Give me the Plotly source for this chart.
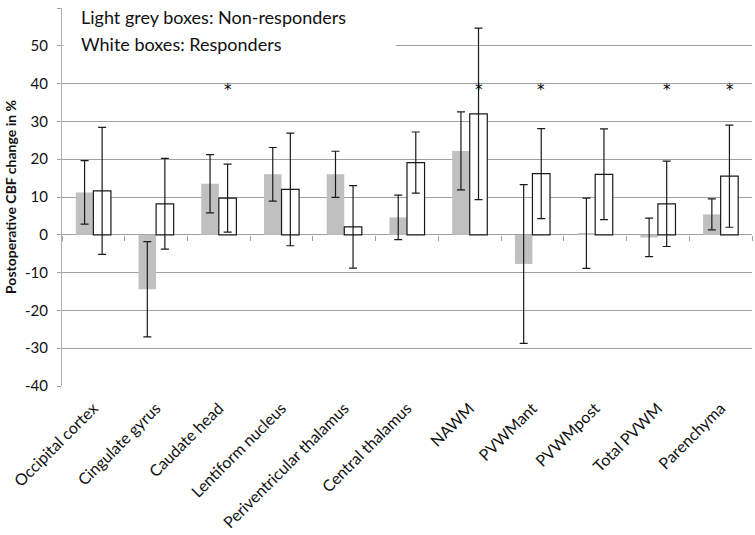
import plotly.graph_objects as go

categories = ["Occipital cortex", "Cingulate gyrus", "Caudate head", "Lentiform nucleus",
              "Periventricular thalamus", "Central thalamus", "NAWM", "PVWMant",
              "PVWMpost", "Total PVWM", "Parenchyma"]
non_responders = [11.2, -14.4, 13.5, 16.0, 16.0, 4.6, 22.2, -7.7, 0.4, -0.7, 5.4]
non_responders_err = [8.4, 12.6, 7.7, 7.1, 6.1, 5.9, 10.3, 21.0, 9.3, 5.1, 4.1]
responders = [11.6, 8.2, 9.7, 12.0, 2.1, 19.1, 32.0, 16.2, 16.0, 8.2, 15.5]
responders_err = [16.8, 12.0, 9.0, 14.9, 10.9, 8.1, 22.7, 11.9, 12.0, 11.3, 13.5]
significant = ["Caudate head", "NAWM", "PVWMant", "Total PVWM", "Parenchyma"]
star_level = 38.3
y_ticks = list(range(-40, 61, 10))
y_tick_labels = [str(v) for v in y_ticks]

FONT = "Lato"
GRID = "#a0a0a0"

fig = go.Figure()
fig.add_trace(go.Bar(
    x=categories, y=non_responders, name="Non-responders",
    marker=dict(color="#c0c0c0", line=dict(width=0)),
    error_y=dict(type="data", array=non_responders_err, color="#1a1a1a", thickness=1.2, width=4),
))
fig.add_trace(go.Bar(
    x=categories, y=responders, name="Responders",
    marker=dict(color="white", line=dict(color="#1a1a1a", width=1.2)),
    error_y=dict(type="data", array=responders_err, color="#1a1a1a", thickness=1.2, width=4),
))
# dummy trace for the zero-line tick axis
fig.add_trace(go.Scatter(x=categories, y=[None] * len(categories), xaxis="x2",
                         showlegend=False, hoverinfo="skip", mode="markers"))

for c in significant:
    fig.add_annotation(x=c, y=star_level, text="*", showarrow=False, xshift=9,
                       font=dict(family="DejaVu Sans", size=15, color="black"))

# legend text box
fig.add_shape(type="rect", xref="paper", yref="paper", x0=0.002, x1=0.484, y0=0.85, y1=1.03,
              fillcolor="white", line=dict(width=0), layer="above")
fig.add_annotation(xref="paper", yref="paper", x=0.024, y=0.975, xanchor="left", yanchor="middle",
                   text="Light grey boxes: Non-responders", showarrow=False,
                   font=dict(family=FONT, size=18, color="#111"))
fig.add_annotation(xref="paper", yref="paper", x=0.024, y=0.906, xanchor="left", yanchor="middle",
                   text="White boxes: Responders", showarrow=False,
                   font=dict(family=FONT, size=18, color="#111"))
# y axis title
fig.add_annotation(xref="paper", yref="paper", x=-0.0754, y=0.5, xanchor="center", yanchor="middle",
                   text="<b>Postoperative CBF change in %</b>", textangle=-90, showarrow=False,
                   font=dict(family=FONT, size=14, color="#111"))

fig.update_layout(
    width=755, height=535,
    margin=dict(l=62, r=3, t=8, b=149),
    paper_bgcolor="white", plot_bgcolor="white",
    barmode="group", bargap=0.44, bargroupgap=0.0,
    showlegend=False,
    font=dict(family=FONT, color="#111"),
    xaxis=dict(type="category", categoryorder="array", categoryarray=categories,
               range=[-0.5, 10.5], showgrid=False, showline=False, ticks="",
               automargin=False, ticklabelshift=0, ticklabelstandoff=9,
               tickangle=-45, tickfont=dict(family=FONT, size=16, color="#111")),
    xaxis2=dict(type="category", categoryorder="array", categoryarray=categories,
                overlaying="x", anchor="free", position=0.4, side="bottom",
                range=[-0.5, 10.5], showgrid=False, showline=False, showticklabels=False,
                automargin=False,
                ticks="outside", tickson="boundaries", ticklen=5, tickcolor=GRID, tickwidth=1),
    yaxis=dict(range=[-40, 60], tickvals=y_ticks, ticktext=y_tick_labels,
               showgrid=True, gridcolor=GRID, gridwidth=1,
               zeroline=True, zerolinecolor=GRID, zerolinewidth=1,
               showline=True, linecolor="#b0b0b0", linewidth=1, automargin=False,
               ticks="outside", ticklen=4, tickcolor=GRID, ticklabelstandoff=6,
               tickfont=dict(family=FONT, size=15, color="#111")),
)

fig.write_html("out.html", config={"displayModeBar": False},
               post_script="document.body.style.margin='0';")
